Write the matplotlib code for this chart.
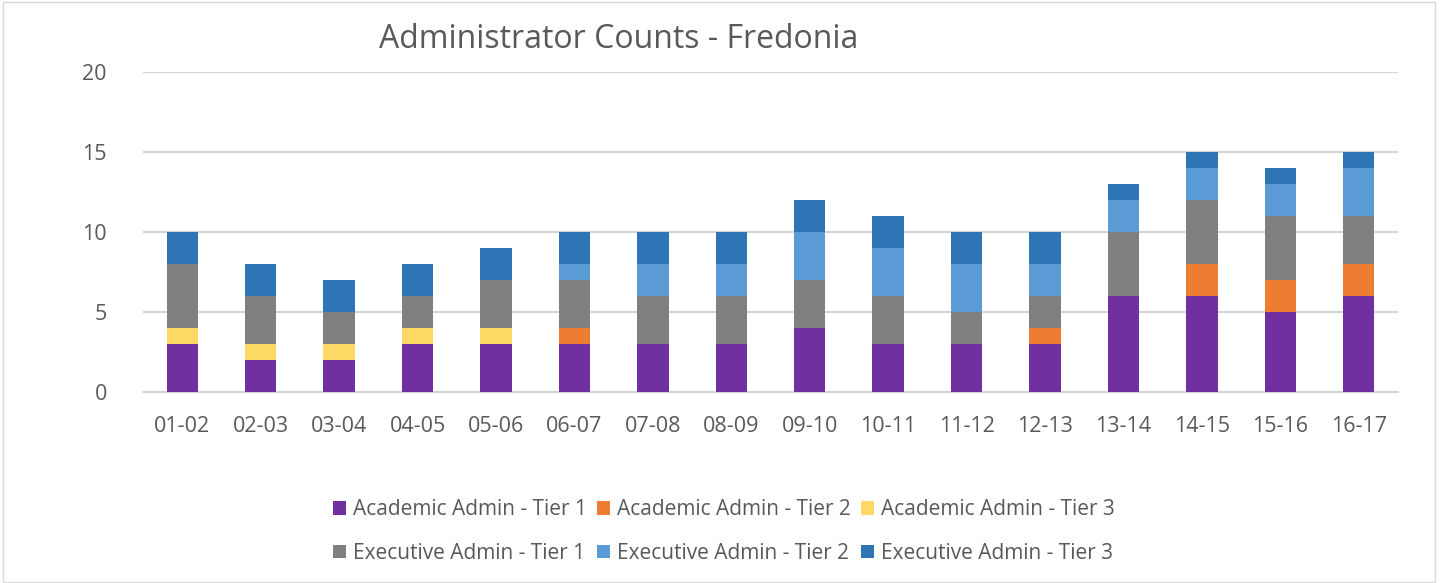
import matplotlib.pyplot as plt
import numpy as np

plt.rcParams['font.family'] = ['Open Sans', 'DejaVu Sans']

years = ['01-02', '02-03', '03-04', '04-05', '05-06', '06-07', '07-08', '08-09',
         '09-10', '10-11', '11-12', '12-13', '13-14', '14-15', '15-16', '16-17']

acad_t1 = [3, 2, 2, 3, 3, 3, 3, 3, 4, 3, 3, 3, 6, 6, 5, 6]
acad_t2 = [0, 0, 0, 0, 0, 1, 0, 0, 0, 0, 0, 1, 0, 2, 2, 2]
acad_t3 = [1, 1, 1, 1, 1, 0, 0, 0, 0, 0, 0, 0, 0, 0, 0, 0]
exec_t1 = [4, 3, 2, 2, 3, 3, 3, 3, 3, 3, 2, 2, 4, 4, 4, 3]
exec_t2 = [0, 0, 0, 0, 0, 1, 2, 2, 3, 3, 3, 2, 2, 2, 2, 3]
exec_t3 = [2, 2, 2, 2, 2, 2, 2, 2, 2, 2, 2, 2, 1, 1, 1, 1]

series = [
    ('Academic Admin - Tier 1', acad_t1, '#7030A0'),
    ('Academic Admin - Tier 2', acad_t2, '#ED7D31'),
    ('Academic Admin - Tier 3', acad_t3, '#FFD966'),
    ('Executive Admin - Tier 1', exec_t1, '#808080'),
    ('Executive Admin - Tier 2', exec_t2, '#5B9BD5'),
    ('Executive Admin - Tier 3', exec_t3, '#2E75B6'),
]

fig = plt.figure(figsize=(14.42, 5.83), dpi=100)
ax = fig.add_axes([0.0992, 0.3276, 0.8703, 0.5489])

x = np.arange(len(years))
bottom = np.zeros(len(years))
for name, vals, col in series:
    ax.bar(x, vals, width=0.40, bottom=bottom, color=col, label=name, zorder=3)
    bottom += np.array(vals)

ax.set_xlim(-0.5, len(years) - 0.5)
ax.set_ylim(0, 20)
ax.set_yticks([0, 5, 10, 15, 20])
ax.set_xticks(x)
ax.set_xticklabels(years)
ax.grid(axis='y', color='#D4D4D4', linewidth=1.5, zorder=0)
for s in ['top', 'right', 'left']:
    ax.spines[s].set_visible(False)
ax.spines['bottom'].set_color('#D4D4D4')
ax.spines['bottom'].set_linewidth(1.5)
ax.tick_params(axis='both', length=0, labelsize=15.5, colors='#595959')
ax.tick_params(axis='x', pad=17)
ax.tick_params(axis='y', pad=26)

fig.text(0.429, 0.932, 'Administrator Counts - Fredonia', ha='center', va='center',
         fontsize=23, color='#595959')

# legend fills column by column, so reorder to read across rows
handles, labels = ax.get_legend_handles_labels()
order = [0, 3, 1, 4, 2, 5]
fig.legend([handles[i] for i in order], [labels[i] for i in order], ncol=3,
           loc='center', bbox_to_anchor=(0.502, 0.088), frameon=False, fontsize=15,
           labelcolor='#595959', handlelength=0.6, handleheight=0.6,
           handletextpad=0.35, columnspacing=0.5, labelspacing=1.1)

fig.patches.append(plt.Rectangle((0.002, 0.002), 0.993, 0.995, transform=fig.transFigure,
                                 fill=False, edgecolor='#D9D9D9', linewidth=1))

fig.savefig('out.png', dpi=100)
